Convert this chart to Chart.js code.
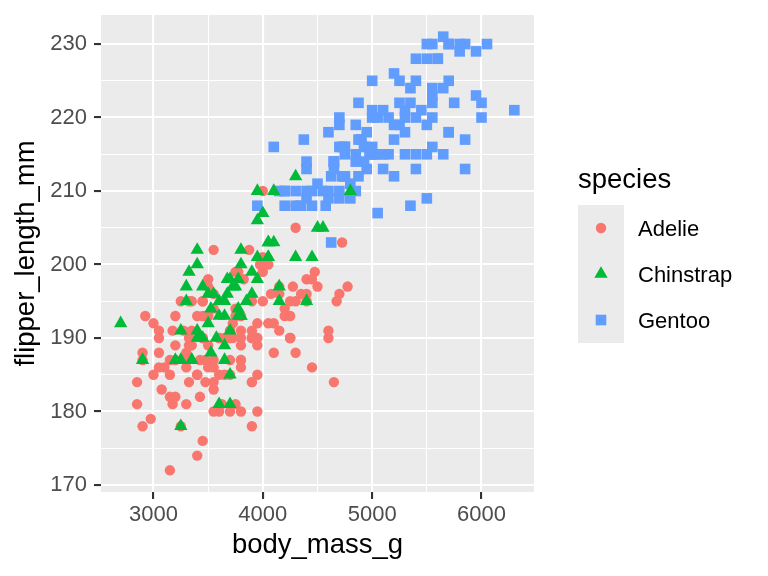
<!DOCTYPE html>
<html>
<head>
<meta charset="utf-8">
<script src="https://cdn.jsdelivr.net/npm/chart.js@4"></script>
<style>
  body { margin: 0; background: #ffffff; }
  canvas { display: block; }
</style>
</head>
<body>
<canvas id="graphique" width="768" height="576"></canvas>
<script>
// Palmer penguins : body_mass_g vs flipper_length_mm
const especes = ["Adelie", "Chinstrap", "Gentoo"];

const adelieMasse = [
  3750, 3800, 3250, 3450, 3650, 3625, 4675, 3475, 4250,
  3300, 3700, 3200, 3800, 4400, 3700, 3450, 4500, 3325, 4200,
  3400, 3600, 3800, 3950, 3800, 3800, 3550, 3200, 3150, 3950,
  3250, 3900, 3300, 3900, 3325, 4150, 3950, 3550, 3300, 4650,
  3150, 3900, 3100, 4400, 3000, 4600, 3425, 2975, 3450, 4150,
  3500, 4300, 3450, 4050, 2900, 3700, 3550, 3800, 2850, 3750,
  3150, 4400, 3600, 4050, 2850, 3950, 3350, 4100, 3050, 4450,
  3600, 3900, 3550, 4150, 3700, 4250, 3700, 3900, 3550, 4000,
  3200, 4700, 3800, 4200, 3350, 3550, 3800, 3500, 3950, 3600,
  3550, 4300, 3400, 4450, 3300, 4300, 3700, 4350, 2900, 4100,
  3725, 4725, 3075, 4250, 2925, 3550, 3750, 3900, 3175, 4775,
  3825, 4600, 3200, 4275, 3900, 4075, 2900, 3775, 3350, 3325,
  3150, 3500, 3450, 3875, 3050, 4000, 3275, 4300, 3050, 4000,
  3325, 3500, 3500, 4475, 3425, 3900, 3175, 3975, 3400, 4250,
  3400, 3475, 3050, 3725, 3000, 3650, 4250, 3475, 3450, 3750, 3700, 4000
];
const adelieNageoire = [
  181, 186, 195, 193, 190, 181, 195, 193, 190,
  186, 180, 182, 191, 198, 185, 195, 197, 184, 194,
  174, 180, 189, 185, 180, 187, 183, 187, 172, 180,
  178, 178, 188, 184, 195, 196, 190, 180, 181, 184,
  182, 195, 186, 196, 185, 190, 182, 179, 190, 191,
  186, 188, 190, 200, 187, 191, 186, 193, 181, 194,
  185, 195, 185, 192, 184, 192, 195, 188, 190, 198,
  190, 190, 196, 197, 190, 195, 191, 184, 187, 195,
  189, 196, 187, 193, 191, 194, 190, 189, 189, 190,
  202, 205, 185, 186, 187, 208, 190, 196, 178, 192,
  192, 203, 183, 190, 193, 184, 199, 190, 181, 197,
  198, 191, 193, 197, 191, 196, 188, 199, 189, 189,
  187, 198, 176, 202, 186, 199, 191, 195, 191, 210,
  190, 197, 193, 199, 187, 190, 191, 200, 185, 193,
  193, 187, 188, 190, 192, 185, 190, 184, 195, 193, 187, 201
];

const gentooMasse = [
  4500, 5700, 4450, 5700, 5400, 4550, 4800, 5200, 4400, 5150,
  4650, 5550, 4650, 5850, 4200, 5850, 4150, 6300, 4800, 5350,
  5700, 5000, 4400, 5050, 5000, 5100, 4100, 5650, 4600, 5550,
  5250, 4700, 5050, 6050, 5150, 5400, 4950, 5250, 4350, 5350,
  3950, 5700, 4300, 4750, 5550, 4900, 4200, 5400, 5100, 5300,
  4850, 5300, 4400, 5000, 4900, 5050, 4300, 5000, 4450, 5550,
  4200, 5300, 4400, 5650, 4700, 5700, 4650, 5800, 4700, 5550,
  4750, 5000, 5100, 5200, 4700, 5800, 4600, 6000, 4750, 5950,
  4625, 5450, 4725, 5350, 4750, 5600, 4600, 5300, 4875, 5550,
  4950, 5400, 4750, 5650, 4850, 5200, 4925, 4875, 4625, 5250,
  4850, 5600, 4975, 5500, 4725, 5500, 4700, 5500, 4575, 5500,
  5000, 5950, 4650, 5500, 4375, 5850, 4875, 6000, 4925,
  4850, 5750, 5200, 5400
];
const gentooNageoire = [
  211, 230, 210, 218, 215, 210, 211, 219, 209, 215,
  214, 216, 214, 213, 210, 217, 210, 221, 209, 222,
  218, 215, 213, 215, 215, 215, 216, 215, 210, 220,
  222, 209, 207, 230, 220, 220, 213, 219, 208, 208,
  208, 225, 210, 216, 222, 217, 210, 225, 213, 215,
  210, 220, 210, 225, 217, 220, 208, 220, 208, 224,
  208, 221, 214, 231, 219, 230, 214, 229, 220, 223,
  216, 221, 221, 217, 216, 230, 209, 220, 215, 223,
  212, 221, 212, 224, 212, 228, 218, 218, 212, 230,
  218, 228, 212, 224, 214, 226, 216, 222, 203, 225,
  219, 228, 215, 228, 216, 215, 210, 219, 208, 209,
  216, 229, 213, 230, 217, 230, 217, 222, 214,
  215, 222, 212, 213
];

const chinstrapMasse = [
  3500, 3900, 3650, 3525, 3725, 3950, 3250, 3750, 4150, 3700,
  3800, 3775, 3700, 4050, 3575, 4050, 3300, 3700, 3450, 4400,
  3600, 3400, 2900, 3800, 3300, 4150, 3400, 3800, 3700, 4550,
  3200, 4300, 3350, 4100, 3600, 3900, 3850, 4800, 2700, 4500,
  3950, 3650, 3550, 3500, 3675, 4450, 3400, 4300, 3250, 3675,
  3325, 3950, 3600, 4050, 3350, 3450, 3250, 4050, 3800, 3525,
  3950, 3650, 3650, 4000, 3400, 3775, 4100, 3775
];
const chinstrapNageoire = [
  192, 196, 193, 188, 197, 198, 178, 197, 195, 198,
  193, 194, 185, 201, 190, 201, 197, 181, 190, 195,
  181, 191, 187, 193, 195, 197, 200, 200, 191, 205,
  187, 201, 187, 203, 195, 199, 195, 210, 192, 205,
  210, 187, 196, 196, 196, 201, 190, 212, 187, 198,
  199, 201, 193, 203, 187, 197, 191, 203, 202, 194,
  206, 189, 195, 207, 202, 193, 210, 198
];

// Graduations
const xMajeures = [3000, 4000, 5000, 6000];
const xMineures = [3500, 4500, 5500];
const yMajeures = [170, 180, 190, 200, 210, 220, 230];
const yMineures = [175, 185, 195, 205, 215, 225];

const couleurs = { Adelie: "#F8766D", Chinstrap: "#00BA38", Gentoo: "#619CFF" };
const formes = { Adelie: "circle", Chinstrap: "triangle", Gentoo: "rect" };
const tailles = { Adelie: 5.2, Chinstrap: 7.7, Gentoo: 7.5 };

const police = '"Liberation Sans", Arial, Helvetica, sans-serif';
Chart.defaults.font.family = police;

function points(masses, nageoires) {
  return masses.map((m, i) => ({ x: m, y: nageoires[i] }));
}

function jeuDeDonnees(nom, masses, nageoires, ordre) {
  return {
    label: nom,
    data: points(masses, nageoires),
    pointStyle: formes[nom],
    pointRadius: tailles[nom],
    pointHoverRadius: tailles[nom],
    pointBorderWidth: 0,
    backgroundColor: couleurs[nom],
    borderColor: couleurs[nom],
    order: ordre
  };
}

function poserTicks(majeures, mineures) {
  return function (scale) {
    scale.ticks = majeures.concat(mineures).sort((a, b) => a - b).map(v => ({ value: v }));
  };
}

function axe(majeures, mineures, titre, taille, min, max, estX) {
  const majeure = (ctx) => ctx.tick && majeures.includes(ctx.tick.value);
  return {
    type: "linear",
    min: min,
    max: max,
    afterBuildTicks: poserTicks(majeures, mineures),
    afterFit: function (scale) {
      if (estX) scale.height = taille; else scale.width = taille;
      // pas de marge ajoutée pour les étiquettes aux extrémités
      scale.paddingTop = 0;
      scale.paddingBottom = 0;
      scale.paddingLeft = 0;
      scale.paddingRight = 0;
    },
    border: { display: false },
    grid: {
      color: "#FFFFFF",
      lineWidth: (ctx) => majeure(ctx) ? 2.1 : 1.05,
      tickColor: (ctx) => majeure(ctx) ? "#333333" : "rgba(0,0,0,0)",
      tickWidth: 2.1,
      tickLength: 7,
      drawTicks: true
    },
    ticks: {
      autoSkip: false,
      maxRotation: 0,
      padding: estX ? 3 : 7,
      color: "#4D4D4D",
      font: { size: 22 },
      callback: (v) => majeures.includes(v) ? String(v) : ""
    },
    title: {
      display: true,
      text: titre,
      color: "#000000",
      font: { size: 27.5 },
      padding: estX ? { top: 0, bottom: 14 } : { top: 10, bottom: 0 }
    }
  };
}

// Fond gris du panneau
const fondPanneau = {
  id: "fondPanneau",
  beforeDraw(chart) {
    const { ctx, chartArea } = chart;
    ctx.save();
    ctx.fillStyle = "#EBEBEB";
    ctx.fillRect(chartArea.left, chartArea.top, chartArea.right - chartArea.left, chartArea.bottom - chartArea.top);
    ctx.restore();
  }
};

// Légende façon ggplot
const legendeEspeces = {
  id: "legendeEspeces",
  afterDraw(chart) {
    const ctx = chart.ctx;
    ctx.save();
    ctx.fillStyle = "#000000";
    ctx.font = "27.5px " + police;
    ctx.textBaseline = "alphabetic";
    ctx.textAlign = "left";
    ctx.fillText("species", 578, 188);

    ctx.fillStyle = "#EBEBEB";
    ctx.fillRect(578, 205, 46, 138);

    especes.forEach((nom, i) => {
      const cy = 228 + i * 46;
      ctx.fillStyle = couleurs[nom];
      Chart.helpers.drawPoint(ctx, { pointStyle: formes[nom], radius: tailles[nom], rotation: 0, borderWidth: 0 }, 601, cy);
      ctx.fillStyle = "#000000";
      ctx.font = "22px " + police;
      ctx.fillText(nom, 638, cy + 8);
    });
    ctx.restore();
  }
};

new Chart(document.querySelector("#graphique"), {
  type: "scatter",
  data: {
    datasets: [
      jeuDeDonnees("Adelie", adelieMasse, adelieNageoire, 3),
      jeuDeDonnees("Gentoo", gentooMasse, gentooNageoire, 2),
      jeuDeDonnees("Chinstrap", chinstrapMasse, chinstrapNageoire, 1)
    ]
  },
  options: {
    responsive: false,
    devicePixelRatio: 1,
    animation: false,
    layout: { padding: { left: 0, top: 15, right: 234, bottom: 0 } },
    plugins: {
      legend: { display: false },
      tooltip: { enabled: false }
    },
    scales: {
      x: axe(xMajeures, xMineures, "body_mass_g", 84, 2520, 6480, true),
      y: axe(yMajeures, yMineures, "flipper_length_mm", 101, 169.05, 233.95, false)
    }
  },
  plugins: [fondPanneau, legendeEspeces]
});
</script>
</body>
</html>
